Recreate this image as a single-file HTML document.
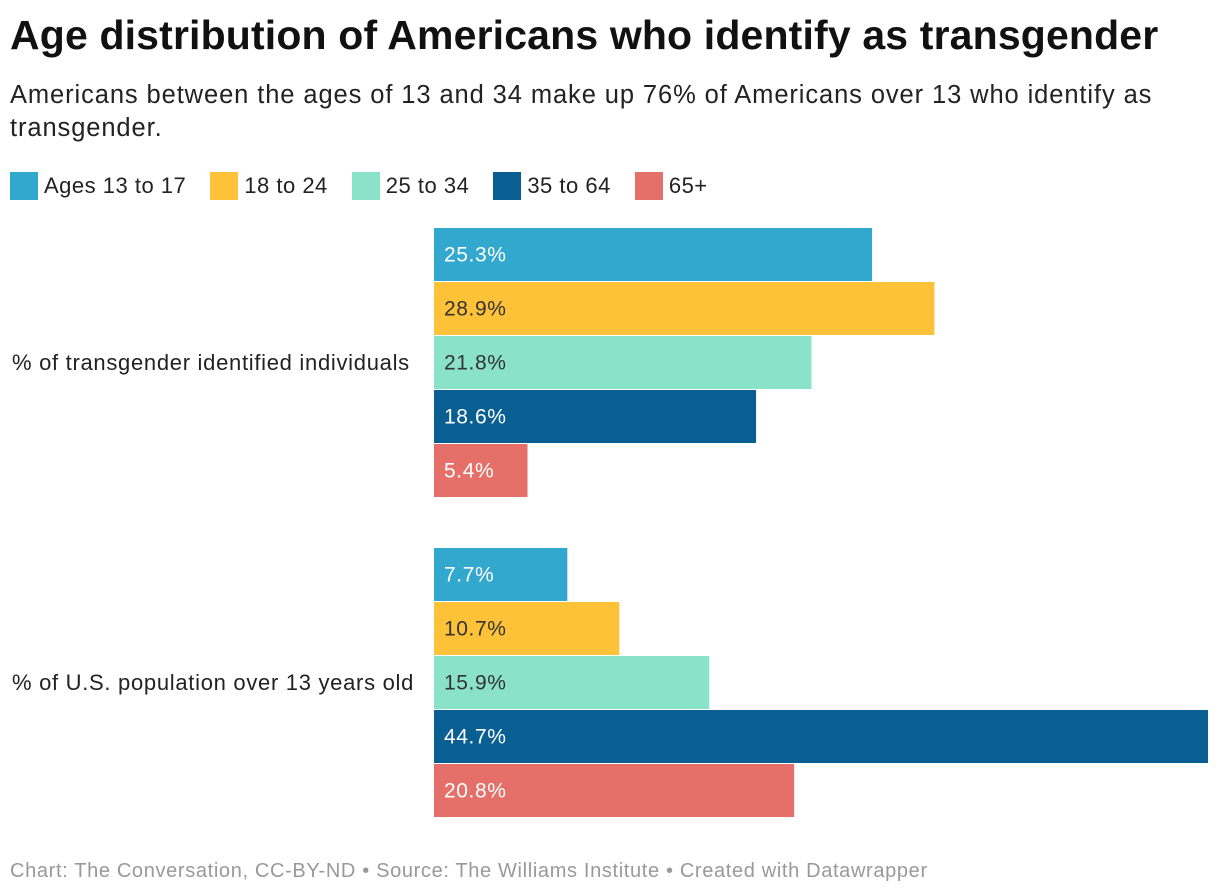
<!DOCTYPE html>
<html><head><meta charset="utf-8"><style>
body{margin:0;width:1220px;height:894px;background:#fff;font-family:"Liberation Sans",Roboto,sans-serif;color:#222;position:relative;overflow:hidden}
#title{position:absolute;left:10px;top:12px;font-size:41px;font-weight:bold;color:#111;margin:0;letter-spacing:0.15px;white-space:nowrap}
#sub{position:absolute;left:10px;top:79px;font-size:25.5px;line-height:33px;color:#222;width:1190px;letter-spacing:0.9px}
#legend{position:absolute;left:10px;top:172px;display:flex;font-size:22px;align-items:center;letter-spacing:0.5px}
.li{display:flex;align-items:center;margin-right:24px}
.sw{width:28px;height:28px;margin-right:6px}
#footer{position:absolute;left:10px;top:860px;font-size:20px;color:#999;letter-spacing:0.65px;white-space:nowrap}
svg{position:absolute;left:0;top:0}
</style></head><body>
<h1 id="title">Age distribution of Americans who identify as transgender</h1>
<div id="sub">Americans between the ages of 13 and 34 make up 76% of Americans over 13 who identify as transgender.</div>
<div id="legend"></div>
<svg id="chart" width="1220" height="894"></svg>
<div id="footer">Chart: The Conversation, CC-BY-ND • Source: The Williams Institute • Created with Datawrapper</div>
<script>
const groups=["% of transgender identified individuals","% of U.S. population over 13 years old"];
const seriesNames=["Ages 13 to 17","18 to 24","25 to 34","35 to 64","65+"];
const colors=["#33a8cf","#fdc237","#8ae3c8","#0a5f92","#e5706a"];
const textColors=["#fff","#333","#333","#fff","#fff"];
const transgender=[25.3,28.9,21.8,18.6,5.4];
const population=[7.7,10.7,15.9,44.7,20.8];
const values=[transgender,population];
const NS="http://www.w3.org/2000/svg";
const svg=document.getElementById('chart');
const x0=434,xMax=1208,maxV=Math.max(...transgender,...population);
const xs=v=>v/maxV*(xMax-x0);
const groupTop=[228,548],barH=53,step=54;
const leg=document.getElementById('legend');
seriesNames.forEach((n,i)=>{
 const d=document.createElement('div');d.className='li';
 
 
 d.innerHTML='<div class="sw" style="background:'+colors[i]+'"></div>'+n;
 leg.appendChild(d);
});
groups.forEach((g,gi)=>{
 const t=document.createElementNS(NS,'text');
 t.setAttribute('x',12);t.setAttribute('y',groupTop[gi]+step*2.5+7);
 t.setAttribute('font-size','22');t.setAttribute('fill','#222');t.setAttribute('letter-spacing','0.7');
 t.textContent=g;
 
 
 svg.appendChild(t);
 values[gi].forEach((v,i)=>{
  const y=groupTop[gi]+i*step;
  const r=document.createElementNS(NS,'rect');
  r.setAttribute('x',x0);r.setAttribute('y',y);r.setAttribute('width',xs(v));r.setAttribute('height',barH);r.setAttribute('fill',colors[i]);
  
  
  svg.appendChild(r);
  const l=document.createElementNS(NS,'text');
  l.setAttribute('x',x0+10);l.setAttribute('y',y+barH/2+7);l.setAttribute('font-size','21');l.setAttribute('fill',textColors[i]);l.setAttribute('letter-spacing','0.6');
  l.textContent=v.toFixed(1)+'%';
  
  
  svg.appendChild(l);
 });
});
</script>
</body></html>
